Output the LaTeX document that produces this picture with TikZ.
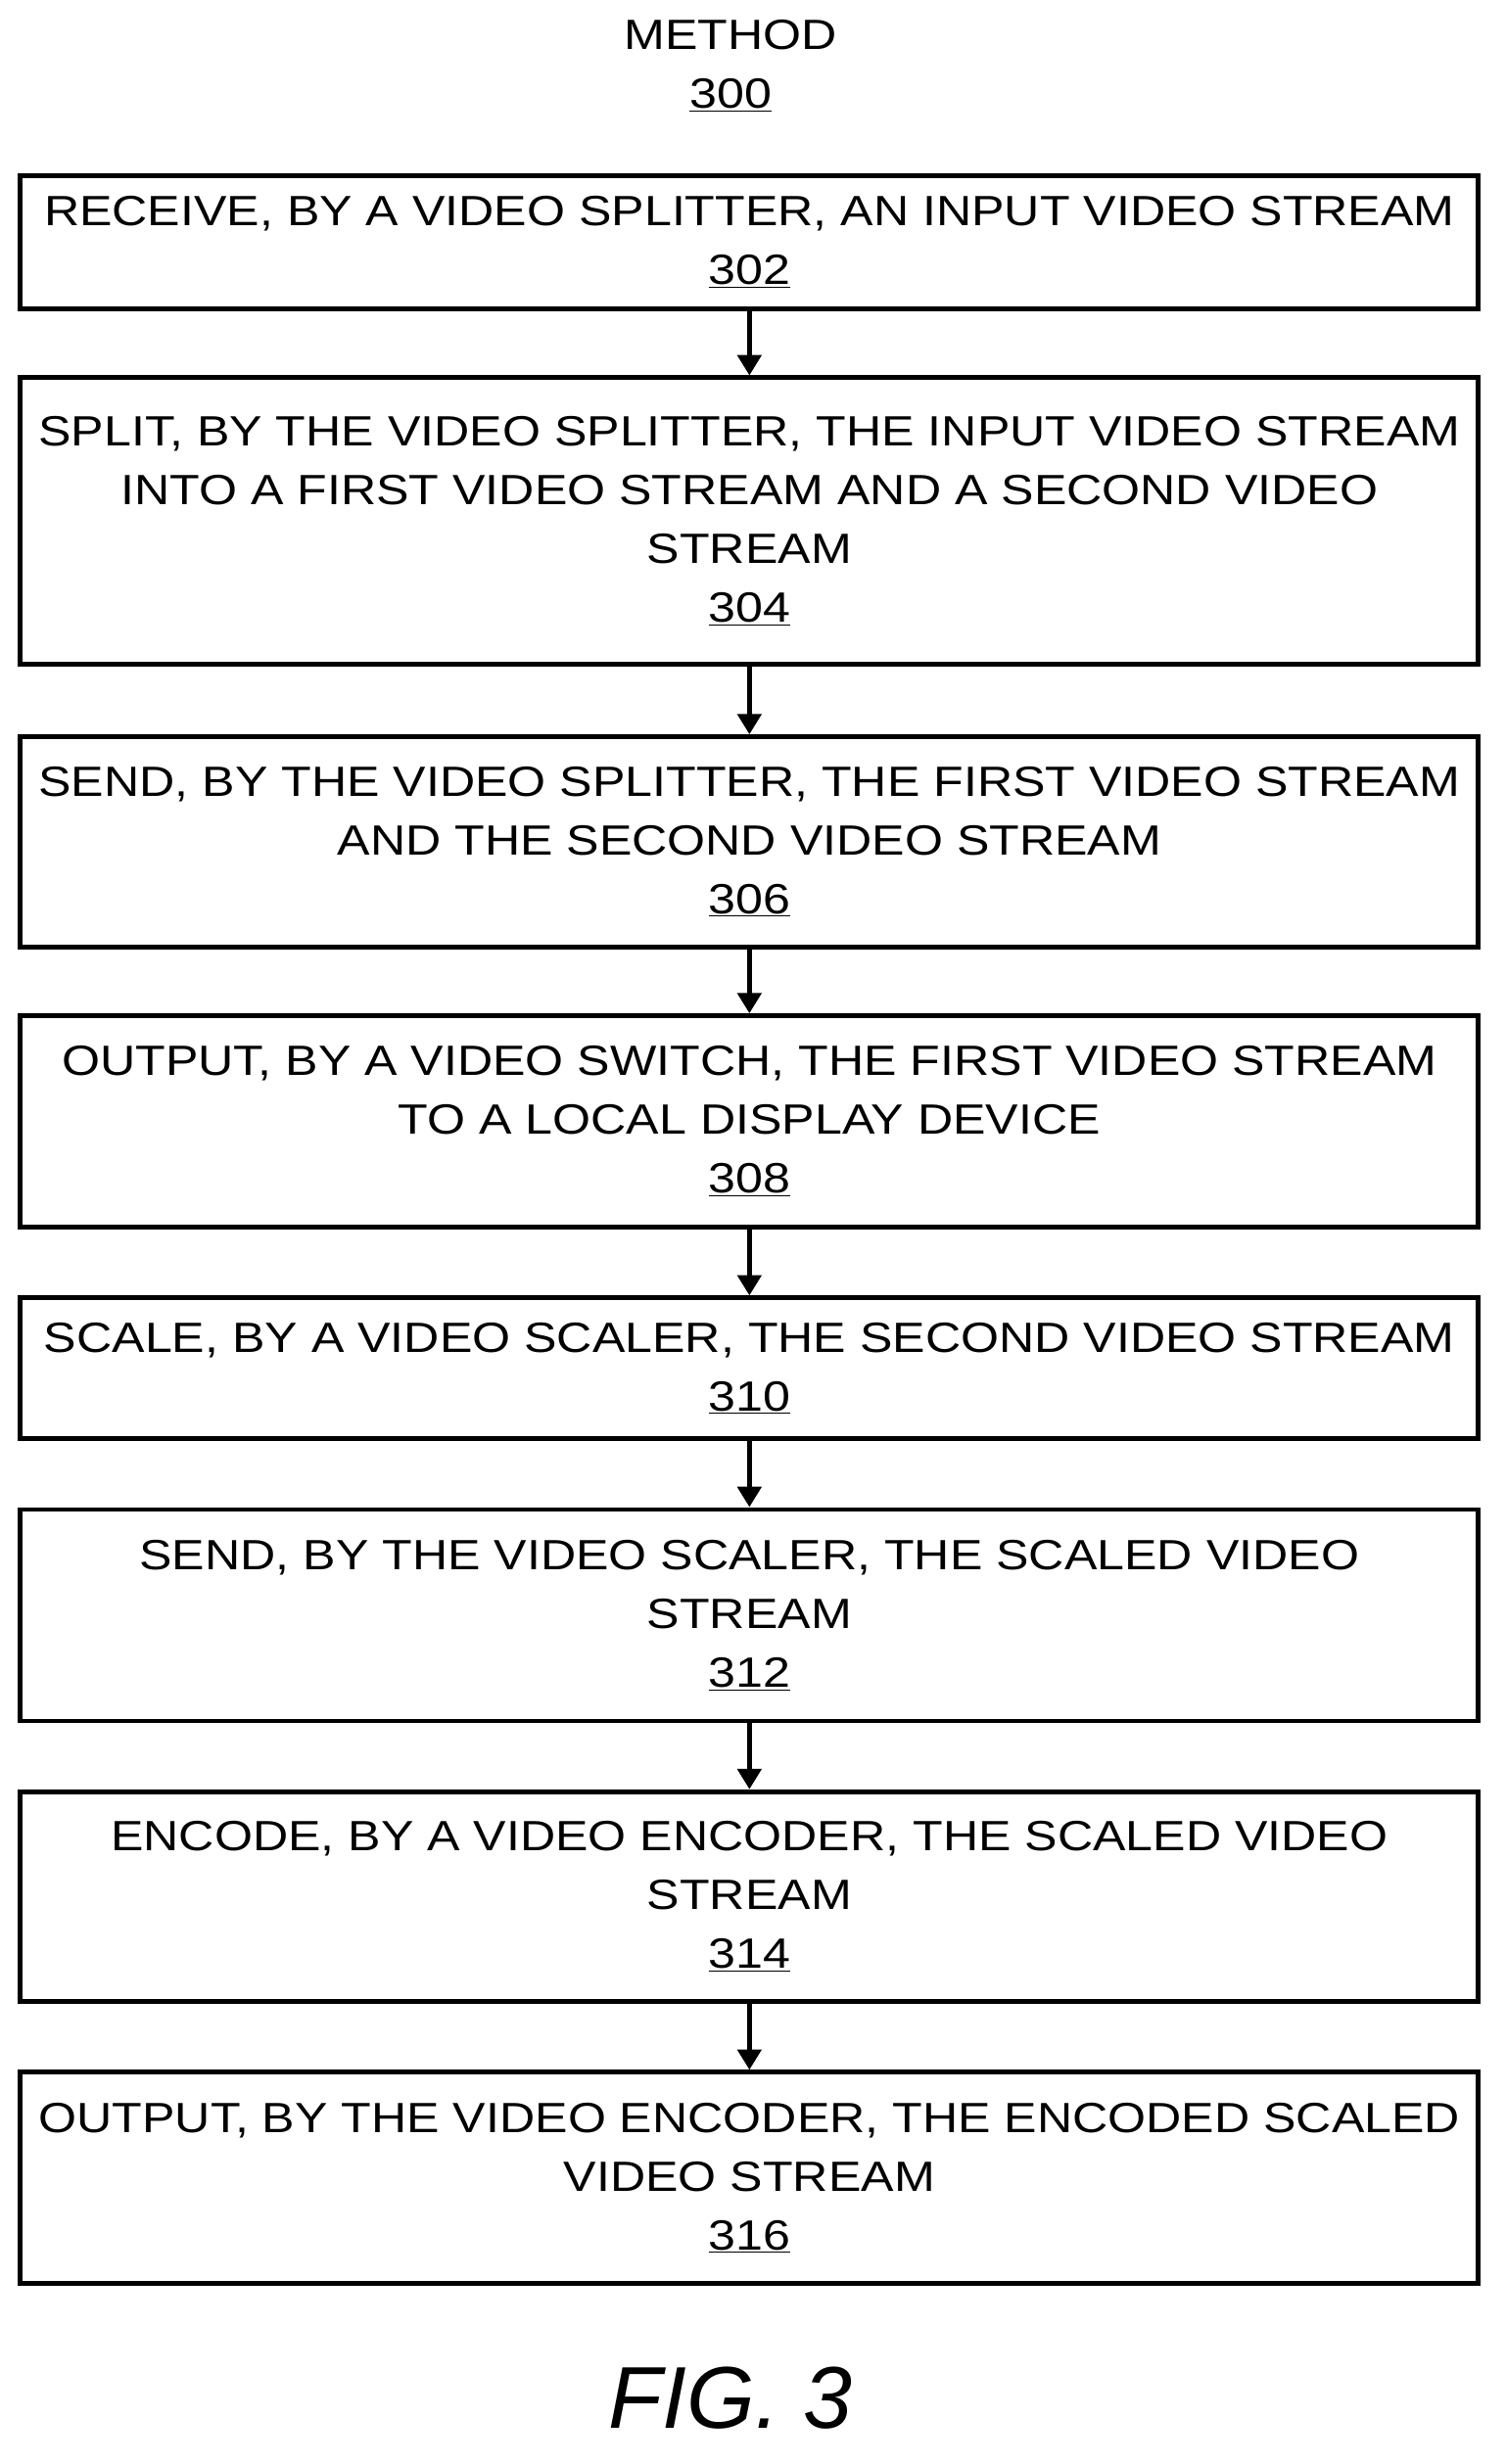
\documentclass[tikz,border=0pt]{standalone}
\usepackage{fontspec}
\setmainfont[FakeStretch=1.16]{Liberation Sans}
\newfontfamily\figfont{Liberation Sans}
\usetikzlibrary{arrows.meta}
\begin{document}
\begin{tikzpicture}[x=1pt,y=1pt,
  stepbox/.style={draw,line width=3pt,minimum width=930pt,inner sep=0pt,align=center,font=\fontsize{27}{37.5}\selectfont},
  arr/.style={line width=3pt,-{Triangle[length=13pt,width=15pt]}}]
\useasboundingbox (0,0) rectangle (960,-1572);
\node[align=center,font=\fontsize{27}{37.5}\selectfont] (title) at (466,-42) {METHOD\\\underline{300}};
\node[stepbox,minimum height=85pt] (b1) at (478,-154.5) {RECEIVE, BY A VIDEO SPLITTER, AN INPUT VIDEO STREAM\\\underline{302}};
\node[stepbox,minimum height=183pt] (b2) at (478,-332.5) {SPLIT, BY THE VIDEO SPLITTER, THE INPUT VIDEO STREAM\\INTO A FIRST VIDEO STREAM AND A SECOND VIDEO\\STREAM\\\underline{304}};
\node[stepbox,minimum height=134pt] (b3) at (478,-537) {SEND, BY THE VIDEO SPLITTER, THE FIRST VIDEO STREAM\\AND THE SECOND VIDEO STREAM\\\underline{306}};
\node[stepbox,minimum height=135pt] (b4) at (478,-715.5) {OUTPUT, BY A VIDEO SWITCH, THE FIRST VIDEO STREAM\\TO A LOCAL DISPLAY DEVICE\\\underline{308}};
\node[stepbox,minimum height=90pt] (b5) at (478,-873) {SCALE, BY A VIDEO SCALER, THE SECOND VIDEO STREAM\\\underline{310}};
\node[stepbox,minimum height=135pt] (b6) at (478,-1030.5) {SEND, BY THE VIDEO SCALER, THE SCALED VIDEO\\STREAM\\\underline{312}};
\node[stepbox,minimum height=134pt] (b7) at (478,-1210) {ENCODE, BY A VIDEO ENCODER, THE SCALED VIDEO\\STREAM\\\underline{314}};
\node[stepbox,minimum height=135pt] (b8) at (478,-1389.5) {OUTPUT, BY THE VIDEO ENCODER, THE ENCODED SCALED\\VIDEO STREAM\\\underline{316}};
\foreach \a/\b in {b1/b2,b2/b3,b3/b4,b4/b5,b5/b6,b6/b7,b7/b8}
  \draw[arr] (\a.south) -- (\b.north);
\node[font=\figfont\fontsize{56}{60}\selectfont\itshape] (fig) at (466,-1530) {FIG. 3};
\end{tikzpicture}
\end{document}
